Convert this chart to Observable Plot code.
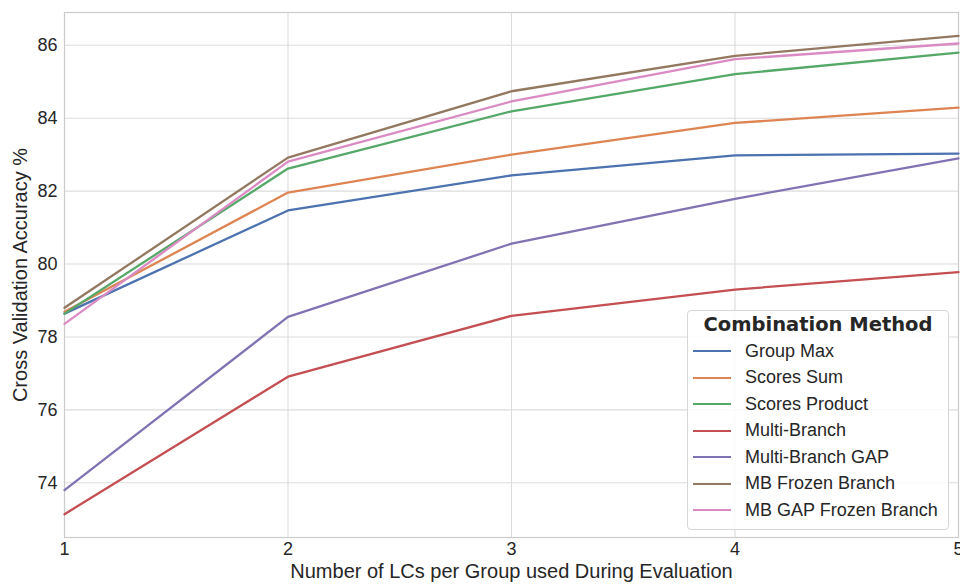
<!DOCTYPE html>
<html>
<head>
<meta charset="utf-8">
<script src="https://cdn.jsdelivr.net/npm/d3@7"></script>
<script src="https://cdn.jsdelivr.net/npm/@observablehq/plot@0.6"></script>
<style>
  html, body { margin: 0; padding: 0; background: #fff; }
  #wrap { position: relative; width: 960px; height: 585px; font-family: "Liberation Sans", Arial, sans-serif; }
  #legend {
    position: absolute; left: 687px; top: 310px; width: 262px; height: 220px;
    box-sizing: border-box; border: 1px solid #d6d6d6; border-radius: 4px;
    background: rgba(255,255,255,0.85); color: #262626;
  }
  #legend .title { font-family: "DejaVu Sans", sans-serif; font-weight: bold; font-size: 19.5px; text-align: center; margin-top: 1px; height: 26px; line-height: 26px; }
  #legend .row { display: flex; align-items: center; height: 26.5px; font-size: 18px; }
  #legend .sw { width: 38px; height: 0; border-top: 2.2px solid; margin-left: 5px; margin-right: 14px; }
</style>
</head>
<body>
<div id="wrap"></div>
<script>
const xs = [1, 2, 3, 4, 5];
const methods = ["Group Max", "Scores Sum", "Scores Product", "Multi-Branch", "Multi-Branch GAP", "MB Frozen Branch", "MB GAP Frozen Branch"];
const colors = ["#4c72b0", "#dd8452", "#55a868", "#c44e52", "#8172b3", "#937860", "#da8bc3"];
const groupMax      = [78.64, 81.47, 82.43, 82.98, 83.03];
const scoresSum     = [78.69, 81.96, 83.00, 83.87, 84.29];
const scoresProduct = [78.64, 82.62, 84.19, 85.21, 85.80];
const multiBranch   = [73.14, 76.91, 78.58, 79.30, 79.78];
const multiBranchGAP= [73.80, 78.55, 80.56, 81.79, 82.90];
const mbFrozen      = [78.80, 82.92, 84.74, 85.71, 86.26];
const mbGapFrozen   = [78.36, 82.81, 84.46, 85.62, 86.05];
const yTicks = [74, 76, 78, 80, 82, 84, 86];
const xLabel = "Number of LCs per Group used During Evaluation";
const yLabel = "Cross Validation Accuracy %";
const legendTitle = "Combination Method";

const series = [groupMax, scoresSum, scoresProduct, multiBranch, multiBranchGAP, mbFrozen, mbGapFrozen];
const data = series.flatMap((vals, i) => vals.map((v, j) => ({x: xs[j], y: v, method: methods[i]})));

const chart = Plot.plot({
  width: 960, height: 585,
  marginLeft: 64, marginRight: 2, marginTop: 12, marginBottom: 48,
  style: {fontFamily: "Liberation Sans, Arial, sans-serif", fontSize: "18px", color: "#262626", background: "#fff", overflow: "visible"},
  x: {domain: [1, 5]},
  y: {domain: [72.5, 86.9]},
  color: {domain: methods, range: colors},
  marks: [
    Plot.gridX(xs, {stroke: "#dcdcdc", strokeOpacity: 1, strokeWidth: 1.1}),
    Plot.gridY(yTicks, {stroke: "#dcdcdc", strokeOpacity: 1, strokeWidth: 1.1}),
    Plot.frame({stroke: "#cccccc", strokeWidth: 1.2}),
    Plot.line(data, {x: "x", y: "y", z: "method", stroke: "method", strokeWidth: 2.3}),
    Plot.axisX(xs, {tickSize: 0, tickPadding: 5, tickFormat: d3.format("d"), label: null, fontSize: 18}),
    Plot.axisY(yTicks, {tickSize: 0, tickPadding: 7, label: null, fontSize: 18}),
    Plot.text([xLabel], {frameAnchor: "bottom", dy: 40, fontSize: 20, fill: "#262626"}),
    Plot.text([yLabel], {frameAnchor: "left", dx: -44, rotate: -90, textAnchor: "middle", lineAnchor: "middle", fontSize: 20, fill: "#262626"})
  ]
});
const wrap = document.getElementById("wrap");
wrap.appendChild(chart);

const legend = document.createElement("div");
legend.id = "legend";
const t = document.createElement("div");
t.className = "title";
t.textContent = legendTitle;
legend.appendChild(t);
methods.forEach((m, i) => {
  const row = document.createElement("div");
  row.className = "row";
  const sw = document.createElement("div");
  sw.className = "sw";
  sw.style.borderTopColor = colors[i];
  const lab = document.createElement("span");
  lab.textContent = m;
  row.appendChild(sw);
  row.appendChild(lab);
  legend.appendChild(row);
});
wrap.appendChild(legend);
</script>
</body>
</html>
